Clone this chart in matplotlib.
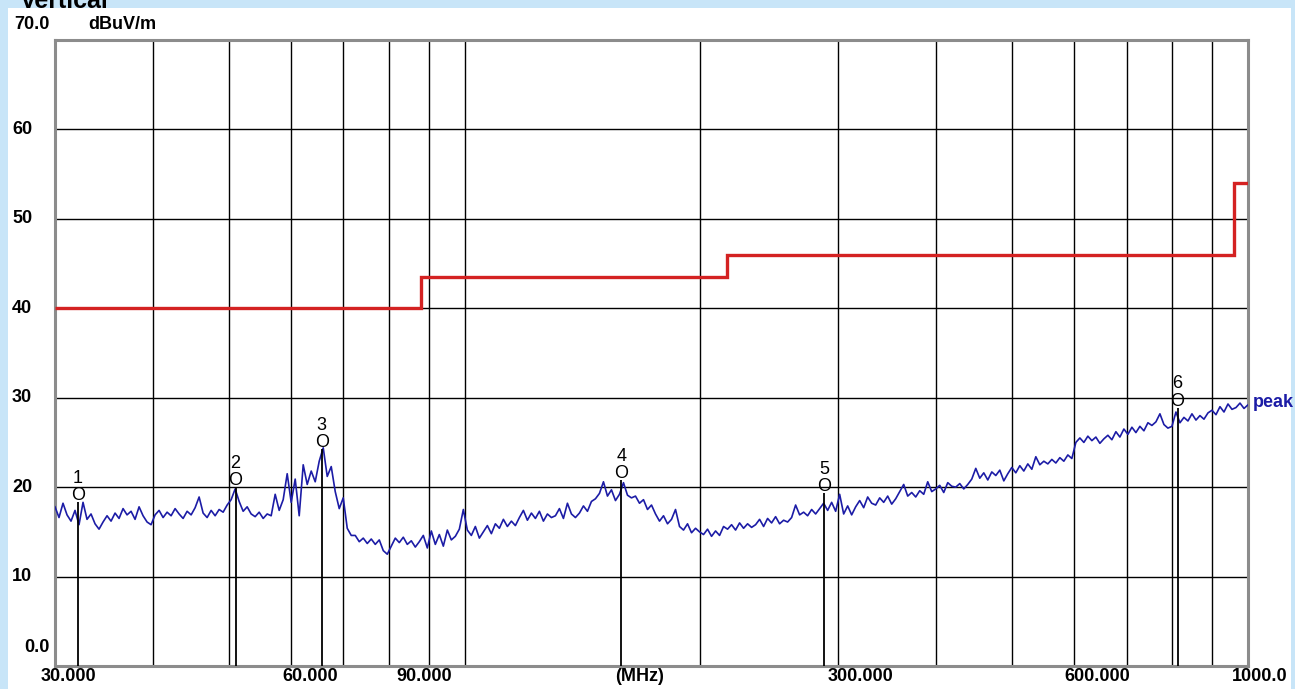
import numpy as np
import matplotlib
matplotlib.use('Agg')
import matplotlib.pyplot as plt
from matplotlib.patches import Rectangle

# --- Traza de pico (dBuV/m), barrido logaritmico 30 MHz - 1 GHz ---
peak_30_40 = [17.8, 16.6, 18.2, 16.9, 16.2, 17.4, 15.8, 18.3, 16.4, 17.0, 15.9, 15.3, 16.1,
              16.8, 16.2, 17.1, 16.5, 17.6, 16.9, 17.3, 16.4, 17.8, 16.8, 16.1, 15.8]
peak_40_52 = [16.9, 17.4, 16.6, 17.2, 16.8, 17.6, 17.0, 16.5, 17.3, 16.9, 17.7, 18.9, 17.1,
              16.6, 17.4, 16.8, 17.5, 17.2, 18.0, 18.6, 19.8, 18.4, 17.3, 17.8, 17.0]
peak_52_70 = [16.7, 17.2, 16.5, 17.0, 16.8, 19.2, 17.4, 18.6, 21.5, 18.3, 20.9, 16.8, 22.5,
              20.3, 21.8, 20.6, 22.9, 24.4, 21.2, 22.3, 19.5, 17.6, 18.8, 15.4, 14.6]
peak_70_95 = [14.6, 13.9, 14.3, 13.7, 14.2, 13.6, 14.1, 12.9, 12.5, 13.4, 14.3, 13.8, 14.4,
              13.6, 14.0, 13.3, 13.9, 14.6, 13.2, 15.1, 13.6, 14.7, 13.4, 15.2, 14.1]
peak_95_130 = [14.5, 15.3, 17.5, 15.2, 14.6, 15.6, 14.3, 15.0, 15.7, 14.8, 15.9, 15.4, 16.4,
               15.6, 16.2, 15.7, 16.6, 17.4, 16.3, 17.1, 16.5, 17.3, 16.2, 17.0, 16.6]
peak_130_175 = [16.8, 17.6, 16.5, 18.2, 17.0, 16.6, 17.1, 17.9, 17.3, 18.4, 18.7, 19.3, 20.6,
                19.0, 19.7, 18.5, 19.2, 20.5, 19.1, 18.8, 19.0, 18.2, 18.6, 17.5, 18.0]
peak_175_235 = [17.0, 16.2, 16.8, 15.9, 16.4, 17.5, 15.6, 15.2, 15.9, 14.9, 15.4, 15.0, 14.7,
                15.3, 14.5, 15.1, 14.6, 15.6, 15.3, 15.8, 15.2, 16.0, 15.4, 15.9, 15.5]
peak_235_315 = [15.8, 16.4, 15.6, 16.5, 16.0, 16.7, 15.9, 16.3, 16.1, 16.6, 18.0, 16.9, 17.2,
                16.8, 17.5, 17.0, 17.6, 18.2, 17.4, 18.3, 17.3, 19.2, 17.0, 17.9, 16.9]
peak_315_420 = [17.8, 18.5, 17.7, 18.9, 18.2, 18.0, 18.8, 18.3, 19.0, 18.1, 18.7, 19.5, 20.3,
                19.0, 19.4, 18.9, 19.6, 19.2, 20.6, 19.5, 19.8, 20.2, 19.4, 20.5, 20.1]
peak_420_560 = [20.0, 20.4, 19.8, 20.3, 20.9, 22.1, 21.0, 21.6, 20.8, 21.7, 21.3, 21.9, 20.7,
                21.5, 22.2, 21.6, 22.4, 21.8, 22.6, 22.0, 23.4, 22.5, 22.9, 22.6, 23.1]
peak_560_750 = [22.7, 23.3, 22.9, 23.6, 23.2, 25.0, 25.5, 25.0, 25.7, 25.2, 25.6, 24.9, 25.4,
                25.8, 25.3, 26.2, 25.6, 26.5, 25.9, 26.7, 26.1, 26.8, 26.3, 27.2, 26.9]
peak_750_1000 = [27.3, 28.2, 27.0, 26.6, 26.8, 28.4, 27.2, 27.8, 27.4, 28.2, 27.5, 28.0,
                 27.6, 28.3, 28.6, 28.1, 29.0, 28.4, 29.3, 28.7, 28.9, 29.4, 28.8, 29.2]

peak_dbuv = (peak_30_40 + peak_40_52 + peak_52_70 + peak_70_95 + peak_95_130 + peak_130_175
             + peak_175_235 + peak_235_315 + peak_315_420 + peak_420_560 + peak_560_750
             + peak_750_1000)
freq_mhz = np.geomspace(30, 1000, len(peak_dbuv))

# --- Limite (escalones) ---
limit_edges = [30, 88, 216, 960, 1000]
limit_levels = [40, 43.5, 46, 54]

# --- Marcadores ---
marker_num = ['1', '2', '3', '4', '5', '6']
marker_freq = [32.1, 51.0, 65.7, 158.5, 287.5, 813.0]
marker_dbuv = [18.3, 20.0, 24.3, 20.8, 19.3, 28.9]

# --- Ejes / rejilla ---
grid_freq = [40, 50, 60, 70, 80, 90, 100, 200, 300, 400, 500, 600, 700, 800, 900]
grid_db = [10, 20, 30, 40, 50, 60]
xlabel_text = ['30.000', '60.000', '90.000', '(MHz)', '300.000', '600.000', '1000.0']
xlabel_pos = [31.2, 63.5, 88.7, 167.4, 319.8, 641.5, 1036]

W, H = 1295, 689
BG_BLUE = '#c8e5f8'
TRACE_BLUE = '#1c1ca6'
LIMIT_RED = '#d42222'

fig = plt.figure(figsize=(W / 100, H / 100), dpi=100, facecolor=BG_BLUE)
plt.rcParams['font.family'] = ['Liberation Sans', 'DejaVu Sans']

# panel blanco detras del grafico
fig.patches.append(Rectangle((8 / W, 0), (1291 - 8) / W, (H - 8) / H,
                             transform=fig.transFigure, facecolor='white',
                             edgecolor='none', zorder=-10))

# titulo (cortado por arriba, como en la captura)
fig.text(20 / W, 1 - 8 / H, 'Vertical', fontsize=18, fontweight='bold',
         ha='left', va='baseline')

ax = fig.add_axes([55 / W, 23 / H, 1193 / W, 626 / H])
ax.set_zorder(5)
ax.set_facecolor('white')
ax.set_xscale('log')
ax.set_xlim(30, 1000)
ax.set_ylim(0, 70)

ax.set_xticks(grid_freq)
ax.set_xticks([], minor=True)
ax.set_yticks(grid_db)
ax.tick_params(length=0, labelbottom=False, labelleft=False)
ax.grid(True, color='black', linewidth=1.0)
for sp in ax.spines.values():
    sp.set_color('#8c8c8c')
    sp.set_linewidth(2.2)

ax.plot(freq_mhz, peak_dbuv, color=TRACE_BLUE, linewidth=1.2, zorder=3)
ax.stairs(limit_levels, limit_edges, baseline=None, color=LIMIT_RED,
          linewidth=2.4, zorder=4)

# marcadores: linea vertical al eje, "O" y numero encima
ax.vlines(marker_freq, 0, marker_dbuv, color='black', linewidth=1.3, zorder=3)
for num, f, v in zip(marker_num, marker_freq, marker_dbuv):
    ax.annotate('O', (f, v), xytext=(0, 4.7), textcoords='offset points',
                ha='center', va='center', fontsize=13, zorder=5)
    ax.annotate(num, (f, v), xytext=(0, 17), textcoords='offset points',
                ha='center', va='center', fontsize=13, zorder=5)

# etiquetas del eje x
xt = ax.get_xaxis_transform()
for txt, f in zip(xlabel_text, xlabel_pos):
    ax.text(f, -0.016, txt, transform=xt, ha='center', va='center',
            fontsize=13, fontweight='bold', clip_on=False)

# etiquetas del eje y
yt = ax.get_yaxis_transform()
for v in grid_db:
    ax.text(-43 / 1193, v, str(v), transform=yt, ha='left', va='center',
            fontsize=13, fontweight='bold', clip_on=False)
ax.text(-5 / 1193, 71.7, '70.0', transform=yt, ha='right', va='center',
        fontsize=13, fontweight='bold', clip_on=False)
ax.text(-5 / 1193, 2.1, '0.0', transform=yt, ha='right', va='center',
        fontsize=13, fontweight='bold', clip_on=False)
ax.text(33 / 1193, 71.7, 'dBuV/m', transform=yt, ha='left', va='center',
        fontsize=13, fontweight='bold', clip_on=False)
ax.text(1.004, 29.5, 'peak', transform=yt, ha='left', va='center',
        fontsize=13, fontweight='bold', color=TRACE_BLUE, clip_on=False)

fig.savefig('out.png', dpi=100, facecolor=BG_BLUE)
